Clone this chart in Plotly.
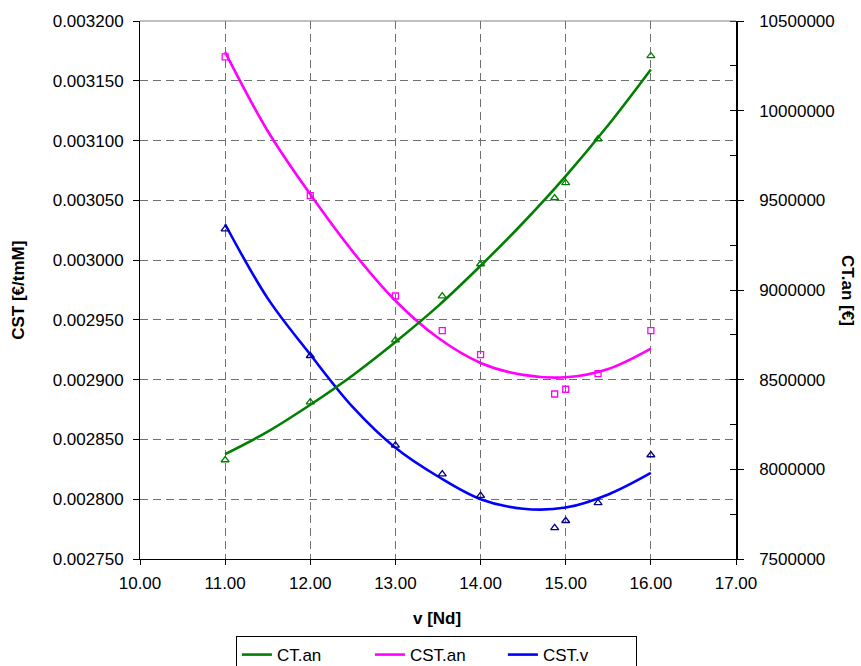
import plotly.graph_objects as go

# Measured speeds v [Nd]
v_obs = [11.0, 12.0, 13.0, 13.55, 14.0, 14.87, 15.0, 15.38, 16.0]

# Annual cost CT.an [€] (right axis)
ct_an_obs = [8052000, 8375000, 8721000, 8966000, 9145000, 9513000, 9597000, 9842000, 10305000]
# Specific transport cost CST [€/tmM] (left axis)
cst_an_obs = [0.003170, 0.003054, 0.002970, 0.002941, 0.002921, 0.002888, 0.002892, 0.002905, 0.002941]
cst_v_obs = [0.003026, 0.002920, 0.002845, 0.002821, 0.002803, 0.002776, 0.002782, 0.002797, 0.002837]

# Trend curves, sampled every half knot
v_trend = [11.0, 11.5, 12.0, 12.5, 13.0, 13.5, 14.0, 14.5, 15.0, 15.5, 16.0]
ct_an_trend = [8085000, 8210000, 8360000, 8525000, 8710000, 8910000, 9135000, 9375000, 9635000, 9920000, 10230000]
cst_an_trend = [0.003174, 0.003108, 0.003055, 0.003007, 0.002966, 0.002935, 0.002914, 0.002904, 0.002902, 0.002909, 0.002926]
cst_v_trend = [0.003030, 0.002968, 0.002921, 0.002877, 0.002843, 0.002819, 0.002800, 0.002792, 0.002793, 0.002804, 0.002822]

x_ticks = [10, 11, 12, 13, 14, 15, 16, 17]

GREEN = "#008000"
MAGENTA = "#FF00FF"
BLUE = "#0000FF"
NAVY = "#000080"
FONT = "Liberation Sans, Arial, sans-serif"

fig = go.Figure()

# Trend lines (shown in legend)
fig.add_trace(go.Scatter(x=v_trend, y=ct_an_trend, mode="lines", name="CT.an",
                         line=dict(color=GREEN, width=2.6, shape="spline"), yaxis="y2"))
fig.add_trace(go.Scatter(x=v_trend, y=cst_an_trend, mode="lines", name="CST.an",
                         line=dict(color=MAGENTA, width=2.6, shape="spline")))
fig.add_trace(go.Scatter(x=v_trend, y=cst_v_trend, mode="lines", name="CST.v",
                         line=dict(color=BLUE, width=2.6, shape="spline")))

# Data points
fig.add_trace(go.Scatter(x=v_obs, y=ct_an_obs, mode="markers", showlegend=False, yaxis="y2",
                         marker=dict(symbol="triangle-up-open", size=7, color=GREEN,
                                     line=dict(width=1.3, color=GREEN))))
fig.add_trace(go.Scatter(x=v_obs, y=cst_an_obs, mode="markers", showlegend=False,
                         marker=dict(symbol="square-open", size=6, color=MAGENTA,
                                     line=dict(width=1.3, color=MAGENTA))))
fig.add_trace(go.Scatter(x=v_obs, y=cst_v_obs, mode="markers", showlegend=False,
                         marker=dict(symbol="triangle-up-open", size=7, color=NAVY,
                                     line=dict(width=1.3, color=NAVY))))

grid = dict(showgrid=True, gridcolor="#707070", gridwidth=1, griddash="8px,5px")

fig.update_layout(
    width=861, height=666,
    margin=dict(l=140, r=125, t=21, b=107, autoexpand=False),
    paper_bgcolor="white", plot_bgcolor="white",
    font=dict(family=FONT, size=17, color="black"),
    showlegend=True,
    legend=dict(orientation="h", xref="container", yref="container",
                x=0.274, y=0.045, xanchor="left", yanchor="top",
                bordercolor="black", borderwidth=1, bgcolor="white",
                font=dict(family=FONT, size=17, color="black"),
                itemwidth=30, entrywidth=88, entrywidthmode="pixels", tracegroupgap=0),
    xaxis=dict(range=[10, 17], tickvals=x_ticks, tickformat=".2f",
               ticks="outside", ticklen=5, tickcolor="black",
               showline=True, linecolor="black", linewidth=1, zeroline=False,
               ticklabelstandoff=4, **grid),
    yaxis=dict(range=[0.00275, 0.0032], dtick=0.00005, tick0=0.00275, tickformat=".6f",
               ticks="outside", ticklen=6, tickcolor="black",
               showline=True, linecolor="black", linewidth=1, zeroline=False,
               ticklabelstandoff=6, **grid),
    yaxis2=dict(range=[7500000, 10500000], dtick=500000, tick0=7500000, tickformat="d",
                overlaying="y", side="right", showgrid=False, zeroline=False,
                ticks="outside", ticklen=6, tickcolor="black",
                showline=True, linecolor="black", linewidth=1.5,
                ticklabelstandoff=12,
                minor=dict(ticks="inside", ticklen=6, dtick=250000, tickcolor="black",
                           showgrid=False)),
    shapes=[dict(type="line", xref="paper", yref="paper", x0=0, x1=1, y0=1, y1=1,
                 line=dict(color="#808080", width=1))],
    annotations=[
        dict(text="<b>CST [€/tmM]</b>", xref="paper", yref="paper", x=-0.205, y=0.5,
             textangle=-90, showarrow=False, font=dict(family=FONT, size=17),
             xanchor="center", yanchor="middle"),
        dict(text="<b>CT.an [€]</b>", xref="paper", yref="paper", x=1.188, y=0.5,
             textangle=90, showarrow=False, font=dict(family=FONT, size=17),
             xanchor="center", yanchor="middle"),
        dict(text="<b>v [Nd]</b>", xref="paper", yref="paper", x=0.498, y=-0.11,
             showarrow=False, font=dict(family=FONT, size=17),
             xanchor="center", yanchor="middle"),
    ],
)

fig.write_html("out.html")
